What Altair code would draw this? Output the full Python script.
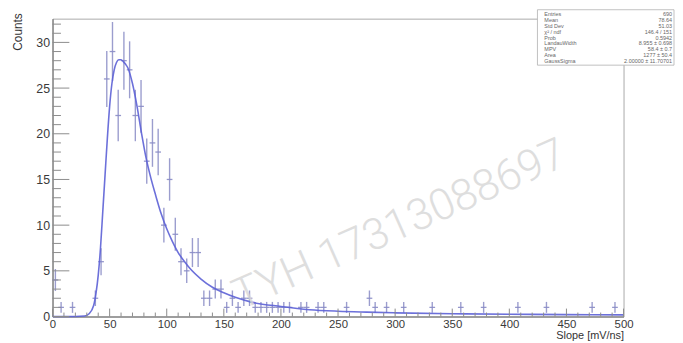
import altair as alt
import pandas as pd

# ---------------- data ----------------
BIN_W = 5
bin_lo = [0, 5, 15,
          35, 40, 45, 50, 55, 60, 65, 70, 75, 80, 85, 90, 95, 100, 105, 110,
          115, 120, 125, 130, 135, 140, 145,
          150, 155, 160, 165, 170, 175, 180, 185, 190, 195, 200, 205, 215, 220,
          230, 235, 255, 275, 280, 290, 305, 330, 355, 375, 405, 430, 470, 490]
counts = [4, 1, 1,
          2, 6, 26, 29, 22, 28, 27, 22, 23, 17, 19, 18, 10, 15, 9, 6,
          5, 7, 7, 2, 2, 3, 3,
          1, 2, 1, 2, 2, 1, 1, 1, 1, 1, 1, 1, 1, 1,
          1, 1, 1, 2, 1, 1, 1, 1, 1, 1, 1, 1, 1, 1]
ERR_K = 0.6   # visible error-bar half length relative to sqrt(N)

fit_x = [0, 20, 28, 32, 36, 38, 40, 42, 44, 46, 48, 50, 52, 54, 56, 58, 60, 62, 64,
         66, 70, 74, 78, 82, 86, 90, 95, 100, 105, 110, 115, 120, 130, 140, 150,
         160, 175, 200, 225, 250, 275, 300, 350, 400, 450, 500]
fit_y = [0, 0, 0.05, 0.3, 1.2, 2.5, 4.5, 7.5, 11.5, 15.5, 19.5, 23, 25.5, 27, 27.8,
         28.1, 28.1, 27.9, 27.6, 27.2, 25.5, 23, 20, 17.3, 15.2, 13.4, 11.3, 9.6,
         8.2, 7.0, 6.1, 5.3, 4.1, 3.2, 2.6, 2.1, 1.55, 1.1, 0.75, 0.58, 0.48, 0.4,
         0.31, 0.25, 0.21, 0.18]

x_major = [0, 50, 100, 150, 200, 250, 300, 350, 400, 450, 500]
x_minor = [v for v in range(10, 500, 10) if v % 50 != 0]
y_major = [0, 5, 10, 15, 20, 25, 30]
y_minor = [v for v in range(1, 33) if v % 5 != 0]

stat_labels = ["Entries", "Mean", "Std Dev", "\u03c7\u00b2 / ndf", "Prob",
               "LandauWidth", "MPV", "Area", "GaussSigma"]
stat_values = ["690", "78.64", "51.03", "146.4 / 151", "0.5942",
               "8.955 \u00b1 0.698", "58.4 \u00b1 0.7", "1277 \u00b1 50.4",
               "2.00000 \u00b1 11.70701"]

watermark = "TYH 17313088697"

# ---------------- chart ----------------
W, H = 577, 301
FONT = "Liberation Sans"
BAR_COLOR = "#8a8cc6"
FIT_COLOR = "#5c60d6"

x_scale = alt.Scale(domain=[0, 500], nice=False, zero=False)
y_scale = alt.Scale(domain=[0, 32.6], nice=False, zero=True)

x_axis = alt.Axis(values=x_major, ticks=False, tickSize=0, grid=False,
                  labelPadding=2, labelFlush=False, labelOverlap=False,
                  labelFontSize=11.5,
                  title="Slope [mV/ns]", titleX=W, titleY=24, titleAlign="right",
                  titleBaseline="bottom", titleFontSize=11, titleFontWeight="normal",
                  titleFont=FONT, titleColor="#333")
y_axis = alt.Axis(values=y_major, ticks=False, tickSize=0, grid=False,
                  labelPadding=3, labelOverlap=False,
                  title="Counts", titleAngle=270, titleAlign="right",
                  titleBaseline="middle", titleX=-35.5, titleY=-6,
                  titleFontSize=12, titleFontWeight="normal", titleFont=FONT,
                  titleColor="#333")


def X(field):
    return alt.X(field, scale=x_scale, axis=x_axis, title="Slope [mV/ns]")


def Y(field):
    return alt.Y(field, scale=y_scale, axis=y_axis, title="Counts")


hist_df = pd.DataFrame({"lo": bin_lo, "n": counts})
hist = alt.Chart(hist_df).transform_calculate(
    hi=f"datum.lo + {BIN_W}",
    c=f"datum.lo + {BIN_W / 2}",
    ylo=f"max(datum.n - {ERR_K} * sqrt(datum.n), 0)",
    yhi=f"datum.n + {ERR_K} * sqrt(datum.n)",
)

h_seg = hist.mark_rule(color=BAR_COLOR, strokeWidth=1.3, opacity=0.9).encode(
    x=X("lo:Q"), x2="hi:Q", y=Y("n:Q"),
)
v_seg = hist.mark_rule(color=BAR_COLOR, strokeWidth=1.4, opacity=0.85).encode(
    x=X("c:Q"), y=Y("ylo:Q"), y2="yhi:Q",
)

fit_df = pd.DataFrame({"fx": fit_x, "fy": fit_y})
fit = alt.Chart(fit_df).mark_line(color=FIT_COLOR, strokeWidth=1.6,
                                  interpolate="monotone", opacity=0.9).encode(
    x=X("fx:Q"), y=Y("fy:Q"),
)

TICK_COLOR = "#8c8c8c"
ymaj = alt.Chart(pd.DataFrame({"v": y_major})).mark_rule(color=TICK_COLOR, strokeWidth=1).encode(
    y=Y("v:Q"), x=alt.value(0), x2=alt.value(17))
ymin = alt.Chart(pd.DataFrame({"v": y_minor})).mark_rule(color=TICK_COLOR, strokeWidth=1).encode(
    y=Y("v:Q"), x=alt.value(0), x2=alt.value(8.5))
xmaj = alt.Chart(pd.DataFrame({"v": x_major})).mark_rule(color=TICK_COLOR, strokeWidth=1).encode(
    x=X("v:Q"), y=alt.value(H), y2=alt.value(H - 8))
xmin = alt.Chart(pd.DataFrame({"v": x_minor})).mark_rule(color=TICK_COLOR, strokeWidth=1).encode(
    x=X("v:Q"), y=alt.value(H), y2=alt.value(H - 4))

# stats box (top right, partly outside the frame)
box = alt.Chart(pd.DataFrame({"k": [0]})).mark_rect(
    fill="white", stroke="#b0b0b0", strokeWidth=0.8).encode(
    x=alt.value(490), x2=alt.value(628), y=alt.value(-9), y2=alt.value(47))
stats_df = pd.DataFrame({"lab": stat_labels, "val": stat_values,
                         "row": list(range(len(stat_labels)))})
stats_base = alt.Chart(stats_df).transform_calculate(py="-4.5 + datum.row * 5.9")
stats_l = stats_base.mark_text(align="left", baseline="middle", fontSize=5.5,
                               font=FONT, color="#666").encode(
    x=alt.value(497), y=alt.Y("py:Q", scale=None, axis=None), text="lab:N")
stats_r = stats_base.mark_text(align="right", baseline="middle", fontSize=5.5,
                               font=FONT, color="#666").encode(
    x=alt.value(626), y=alt.Y("py:Q", scale=None, axis=None), text="val:N")

wm = alt.Chart(pd.DataFrame({"t": [watermark]})).mark_text(
    angle=336, fontSize=44, font="Roboto", fontWeight=300, color="#d6d6d6",
    opacity=0.8, align="center", baseline="middle").encode(
    x=alt.value(351), y=alt.value(209), text="t:N")

chart = alt.layer(
    h_seg, v_seg, fit, ymaj, ymin, xmaj, xmin, box, stats_l, stats_r, wm
).properties(
    width=W, height=H,
    autosize=alt.AutoSizeParams(type="none"),
    padding={"left": 45, "top": 9, "right": 52, "bottom": 25},
).configure_view(
    stroke="#aaa", strokeWidth=1
).configure_axis(
    labelFont=FONT, labelFontSize=12.5, labelColor="#3a3a3a",
    domainColor="#666", domainWidth=1,
)

chart.save("out.html", embed_options={"renderer": "svg", "actions": False})
